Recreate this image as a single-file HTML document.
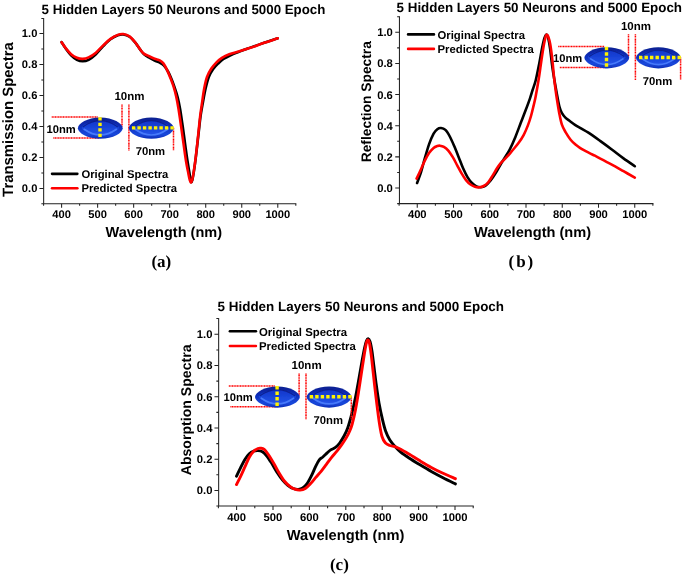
<!DOCTYPE html>
<html>
<head>
<meta charset="utf-8">
<title>Spectra figure</title>
<style>
html,body{margin:0;padding:0;background:#fff;}
body{width:685px;height:576px;overflow:hidden;font-family:"Liberation Sans",sans-serif;}
svg{display:block;will-change:transform;}
text{text-rendering:geometricPrecision;}
</style>
</head>
<body>
<svg width="685" height="576" viewBox="0 0 685 576">
<defs>
<linearGradient id="eg" x1="0" y1="0" x2="0" y2="1">
<stop offset="0" stop-color="#081f90"/><stop offset="0.4" stop-color="#0b2db8"/><stop offset="0.78" stop-color="#1a48dc"/><stop offset="1" stop-color="#0d2fb8"/>
</linearGradient>
<linearGradient id="ei" x1="0" y1="0" x2="0" y2="1">
<stop offset="0" stop-color="#1036ca"/><stop offset="1" stop-color="#2353e8"/>
</linearGradient>
<filter id="soft" x="-5%" y="-10%" width="110%" height="120%"><feGaussianBlur stdDeviation="0.45"/></filter>
</defs>
<rect width="685" height="576" fill="#fff"/>
<g id="chartA">
<g stroke="#222" stroke-width="1.05" fill="none">
<path d="M43.65 17.90 V203.65 H296.30"/>
<path d="M43.59 203.65v2.20M61.60 203.65v4.10M79.62 203.65v2.20M97.63 203.65v4.10M115.65 203.65v2.20M133.66 203.65v4.10M151.68 203.65v2.20M169.69 203.65v4.10M187.71 203.65v2.20M205.72 203.65v4.10M223.73 203.65v2.20M241.75 203.65v4.10M259.76 203.65v2.20M277.78 203.65v4.10M295.80 203.65v2.20M43.65 203.65h-2.30M43.65 188.40h-4.20M43.65 172.90h-2.30M43.65 157.40h-4.20M43.65 141.90h-2.30M43.65 126.40h-4.20M43.65 110.90h-2.30M43.65 95.40h-4.20M43.65 79.90h-2.30M43.65 64.40h-4.20M43.65 48.90h-2.30M43.65 33.40h-4.20M43.65 18.40h-2.30"/>
</g>
<g font-family="Liberation Sans, sans-serif" font-weight="bold" font-size="11.15" fill="#000">
<text x="61.60" y="218.40" text-anchor="middle">400</text>
<text x="97.63" y="218.40" text-anchor="middle">500</text>
<text x="133.66" y="218.40" text-anchor="middle">600</text>
<text x="169.69" y="218.40" text-anchor="middle">700</text>
<text x="205.72" y="218.40" text-anchor="middle">800</text>
<text x="241.75" y="218.40" text-anchor="middle">900</text>
<text x="277.78" y="218.40" text-anchor="middle">1000</text>
<text x="37.35" y="192.30" text-anchor="end">0.0</text>
<text x="37.35" y="161.30" text-anchor="end">0.2</text>
<text x="37.35" y="130.30" text-anchor="end">0.4</text>
<text x="37.35" y="99.30" text-anchor="end">0.6</text>
<text x="37.35" y="68.30" text-anchor="end">0.8</text>
<text x="37.35" y="37.30" text-anchor="end">1.0</text>
</g>
<text x="41.60" y="13.70" font-family="Liberation Sans, sans-serif" font-weight="bold" font-size="13.30" fill="#000">5 Hidden Layers 50 Neurons and 5000 Epoch</text>
<text x="105.60" y="237.00" font-family="Liberation Sans, sans-serif" font-weight="bold" font-size="14.52" fill="#000">Wavelength (nm)</text>
<text transform="translate(13.10 119.50) rotate(-90)" text-anchor="middle" font-family="Liberation Sans, sans-serif" font-weight="bold" font-size="14.9" fill="#000">Transmission Spectra</text>
<text x="161.35" y="266.80" text-anchor="middle" letter-spacing="0" font-family="Liberation Serif, serif" font-weight="bold" font-size="17" fill="#000">(a)</text>
<path d="M61.60 42.20C62.32 43.30 64.32 46.62 65.90 48.80C67.48 50.98 69.27 53.47 71.10 55.30C72.93 57.13 74.97 58.80 76.90 59.80C78.83 60.80 80.75 61.30 82.70 61.30C84.65 61.30 86.40 60.98 88.60 59.80C90.80 58.62 93.47 56.47 95.90 54.20C98.33 51.93 100.77 48.68 103.20 46.20C105.63 43.72 108.07 41.12 110.50 39.30C112.93 37.48 115.67 36.10 117.80 35.30C119.93 34.50 121.35 34.25 123.30 34.50C125.25 34.75 127.50 35.43 129.50 36.80C131.50 38.17 133.48 40.52 135.30 42.70C137.12 44.88 138.93 47.97 140.40 49.90C141.87 51.83 142.70 53.03 144.10 54.30C145.50 55.57 147.05 56.47 148.80 57.50C150.55 58.53 152.78 59.65 154.60 60.50C156.42 61.35 158.13 61.75 159.70 62.60C161.27 63.45 162.62 64.12 164.00 65.60C165.38 67.08 166.72 69.18 168.00 71.50C169.28 73.82 170.60 76.83 171.70 79.50C172.80 82.17 173.62 84.58 174.60 87.50C175.58 90.42 176.68 93.43 177.60 97.00C178.52 100.57 179.25 104.02 180.10 108.90C180.95 113.78 181.83 120.23 182.70 126.30C183.57 132.37 184.50 139.52 185.30 145.30C186.10 151.08 186.80 156.37 187.50 161.00C188.20 165.63 188.98 169.90 189.50 173.10C190.02 176.30 190.30 178.67 190.60 180.20C190.90 181.73 191.02 182.30 191.30 182.30C191.58 182.30 191.87 182.02 192.30 180.20C192.73 178.38 193.28 175.47 193.90 171.40C194.52 167.33 195.25 161.88 196.00 155.80C196.75 149.72 197.63 141.57 198.40 134.90C199.17 128.23 199.83 121.30 200.60 115.80C201.37 110.30 202.17 106.45 203.00 101.90C203.83 97.35 204.63 92.65 205.60 88.50C206.57 84.35 207.53 80.25 208.80 77.00C210.07 73.75 211.58 71.30 213.20 69.00C214.82 66.70 216.78 64.87 218.50 63.20C220.22 61.53 221.50 60.33 223.50 59.00C225.50 57.67 227.85 56.43 230.50 55.20C233.15 53.97 236.22 52.82 239.40 51.60C242.58 50.38 245.47 49.37 249.60 47.90C253.73 46.43 259.52 44.40 264.20 42.80C268.88 41.20 275.45 39.05 277.70 38.30" fill="none" stroke="#000" stroke-width="2.6" stroke-linecap="round" stroke-linejoin="round"/>
<path d="M61.60 42.20C62.32 43.23 64.32 46.40 65.90 48.40C67.48 50.40 69.27 52.63 71.10 54.20C72.93 55.77 74.97 57.02 76.90 57.80C78.83 58.58 80.75 58.97 82.70 58.90C84.65 58.83 86.40 58.43 88.60 57.40C90.80 56.37 93.47 54.70 95.90 52.70C98.33 50.70 100.77 47.70 103.20 45.40C105.63 43.10 108.07 40.65 110.50 38.90C112.93 37.15 115.67 35.71 117.80 34.90C119.93 34.09 121.35 33.80 123.30 34.05C125.25 34.30 127.50 34.99 129.50 36.40C131.50 37.81 133.48 40.27 135.30 42.50C137.12 44.73 138.93 47.90 140.40 49.80C141.87 51.70 142.73 52.87 144.10 53.90C145.47 54.93 146.85 55.20 148.60 56.00C150.35 56.80 152.75 57.98 154.60 58.70C156.45 59.42 158.23 59.52 159.70 60.30C161.17 61.08 162.18 61.80 163.40 63.40C164.62 65.00 165.78 67.35 167.00 69.90C168.22 72.45 169.60 75.90 170.70 78.70C171.80 81.50 172.68 83.73 173.60 86.70C174.52 89.67 175.38 92.80 176.20 96.50C177.02 100.20 177.68 103.93 178.50 108.90C179.32 113.87 180.22 120.23 181.10 126.30C181.97 132.37 182.93 139.52 183.75 145.30C184.57 151.08 185.24 156.37 186.00 161.00C186.76 165.63 187.67 169.90 188.30 173.10C188.93 176.30 189.37 178.62 189.80 180.20C190.23 181.78 190.52 182.60 190.90 182.60C191.28 182.60 191.62 182.07 192.10 180.20C192.58 178.33 193.17 175.47 193.80 171.40C194.43 167.33 195.17 161.88 195.90 155.80C196.63 149.72 197.48 141.57 198.20 134.90C198.92 128.23 199.53 121.30 200.20 115.80C200.87 110.30 201.53 106.45 202.20 101.90C202.87 97.35 203.40 92.65 204.20 88.50C205.00 84.35 205.83 80.28 207.00 77.00C208.17 73.72 209.62 71.25 211.20 68.80C212.78 66.35 214.72 64.13 216.50 62.30C218.28 60.47 219.78 59.15 221.90 57.80C224.02 56.45 226.28 55.28 229.20 54.20C232.12 53.12 236.00 52.32 239.40 51.30C242.80 50.28 245.47 49.52 249.60 48.10C253.73 46.68 259.52 44.44 264.20 42.80C268.88 41.16 275.45 39.01 277.70 38.25" fill="none" stroke="#f00" stroke-width="2.6" stroke-linecap="round" stroke-linejoin="round"/>
<g>
<g stroke="#f00" stroke-width="1.5" stroke-dasharray="1.15 0.45" fill="none">
<path d="M51.70 117.00H98.10"/>
<path d="M53.30 137.90H99.30"/>
<path d="M122.00 104.60V126.80"/>
<path d="M128.90 104.60V150.40"/>
<path d="M173.50 127.80V150.40"/>
</g>
<g filter="url(#soft)">
<path d="M77.90 128.20C77.90 123.54 87.53 117.60 100.30 117.60C113.07 117.60 122.70 123.54 122.70 128.20C122.70 132.86 113.07 138.80 100.30 138.80C87.53 138.80 77.90 132.86 77.90 128.20Z" fill="url(#eg)"/>
<path d="M81.70 127.70C81.70 125.29 89.51 121.00 100.30 121.00C111.09 121.00 118.90 125.29 118.90 127.70C118.90 130.11 111.09 134.40 100.30 134.40C89.51 134.40 81.70 130.11 81.70 127.70Z" fill="url(#ei)"/>
<path d="M84.20 129.30Q100.30 140.70 116.40 129.30" fill="none" stroke="#4f82ff" stroke-width="1.7" stroke-opacity="0.85" stroke-linecap="round"/>
<path d="M83.20 126.70Q100.30 114.60 117.40 126.70" fill="none" stroke="#071c85" stroke-width="1.2" stroke-opacity="0.8" stroke-linecap="round"/>
</g>
<g filter="url(#soft)">
<path d="M128.90 128.20C128.90 123.54 138.53 117.60 151.30 117.60C164.07 117.60 173.70 123.54 173.70 128.20C173.70 132.86 164.07 138.80 151.30 138.80C138.53 138.80 128.90 132.86 128.90 128.20Z" fill="url(#eg)"/>
<path d="M132.70 127.70C132.70 125.29 140.51 121.00 151.30 121.00C162.09 121.00 169.90 125.29 169.90 127.70C169.90 130.11 162.09 134.40 151.30 134.40C140.51 134.40 132.70 130.11 132.70 127.70Z" fill="url(#ei)"/>
<path d="M135.20 129.30Q151.30 140.70 167.40 129.30" fill="none" stroke="#4f82ff" stroke-width="1.7" stroke-opacity="0.85" stroke-linecap="round"/>
<path d="M134.20 126.70Q151.30 114.60 168.40 126.70" fill="none" stroke="#071c85" stroke-width="1.2" stroke-opacity="0.8" stroke-linecap="round"/>
</g>
<g stroke="#fff200" stroke-width="3.4" stroke-dasharray="3.4 2.1" fill="none">
<path d="M100.00 117.20V137.40"/>
<path d="M131.90 127.90H173.90"/>
</g>
<g font-family="Liberation Sans, sans-serif" font-weight="bold" font-size="11.2" fill="#000">
<text x="129.50" y="100.40" text-anchor="middle" font-size="11.5">10nm</text>
<text x="75.70" y="132.50" text-anchor="end">10nm</text>
<text x="150.40" y="155.00" text-anchor="middle" font-size="11.3">70nm</text>
</g>
</g>
<path d="M52.05 173.85H77.35" stroke="#000" stroke-width="2.6" stroke-linecap="round"/>
<path d="M52.05 188.30H77.35" stroke="#f00" stroke-width="2.6" stroke-linecap="round"/>
<g font-family="Liberation Sans, sans-serif" font-weight="bold" font-size="11.25" fill="#000">
<text x="81.40" y="177.75">Original Spectra</text>
<text x="81.40" y="192.20">Predicted Spectra</text>
</g>
</g>
<g id="chartB">
<g stroke="#222" stroke-width="1.05" fill="none">
<path d="M399.45 16.30 V203.60 H653.38"/>
<path d="M399.12 203.60v2.20M417.25 203.60v4.10M435.38 203.60v2.20M453.50 203.60v4.10M471.62 203.60v2.20M489.75 203.60v4.10M507.88 203.60v2.20M526.00 203.60v4.10M544.12 203.60v2.20M562.25 203.60v4.10M580.38 203.60v2.20M598.50 203.60v4.10M616.62 203.60v2.20M634.75 203.60v4.10M652.88 203.60v2.20M399.45 203.60h-2.30M399.45 188.00h-4.20M399.45 172.43h-2.30M399.45 156.86h-4.20M399.45 141.29h-2.30M399.45 125.72h-4.20M399.45 110.15h-2.30M399.45 94.58h-4.20M399.45 79.01h-2.30M399.45 63.44h-4.20M399.45 47.87h-2.30M399.45 32.30h-4.20M399.45 16.80h-2.30"/>
</g>
<g font-family="Liberation Sans, sans-serif" font-weight="bold" font-size="11.22" fill="#000">
<text x="417.25" y="218.40" text-anchor="middle">400</text>
<text x="453.50" y="218.40" text-anchor="middle">500</text>
<text x="489.75" y="218.40" text-anchor="middle">600</text>
<text x="526.00" y="218.40" text-anchor="middle">700</text>
<text x="562.25" y="218.40" text-anchor="middle">800</text>
<text x="598.50" y="218.40" text-anchor="middle">900</text>
<text x="634.75" y="218.40" text-anchor="middle">1000</text>
<text x="392.75" y="191.92" text-anchor="end">0.0</text>
<text x="392.75" y="160.78" text-anchor="end">0.2</text>
<text x="392.75" y="129.64" text-anchor="end">0.4</text>
<text x="392.75" y="98.50" text-anchor="end">0.6</text>
<text x="392.75" y="67.36" text-anchor="end">0.8</text>
<text x="392.75" y="36.22" text-anchor="end">1.0</text>
</g>
<text x="396.60" y="11.80" font-family="Liberation Sans, sans-serif" font-weight="bold" font-size="13.38" fill="#000">5 Hidden Layers 50 Neurons and 5000 Epoch</text>
<text x="474.00" y="237.00" font-family="Liberation Sans, sans-serif" font-weight="bold" font-size="14.61" fill="#000">Wavelength (nm)</text>
<text transform="translate(371.30 101.70) rotate(-90)" text-anchor="middle" font-family="Liberation Sans, sans-serif" font-weight="bold" font-size="13.8" fill="#000">Reflection Spectra</text>
<text x="508.60" y="266.80" text-anchor="start" letter-spacing="1.9" font-family="Liberation Serif, serif" font-weight="bold" font-size="17" fill="#000">(b)</text>
<path d="M417.10 183.00C417.77 181.15 419.83 175.95 421.10 171.90C422.37 167.85 423.35 163.37 424.70 158.70C426.05 154.03 427.72 148.08 429.20 143.90C430.68 139.72 432.25 136.05 433.60 133.60C434.95 131.15 436.07 130.13 437.30 129.20C438.53 128.27 439.65 127.88 441.00 128.00C442.35 128.12 443.93 128.48 445.40 129.90C446.87 131.32 448.33 133.80 449.80 136.50C451.27 139.20 452.72 142.65 454.20 146.10C455.68 149.55 457.22 153.50 458.70 157.20C460.18 160.90 461.63 164.98 463.10 168.30C464.57 171.62 466.03 174.65 467.50 177.10C468.97 179.55 470.42 181.45 471.90 183.00C473.38 184.55 474.92 185.68 476.40 186.40C477.88 187.12 479.33 187.37 480.80 187.30C482.27 187.23 483.60 187.08 485.20 186.00C486.80 184.92 488.68 182.90 490.40 180.80C492.12 178.70 493.67 176.35 495.50 173.40C497.33 170.45 499.72 165.93 501.40 163.10C503.08 160.27 504.22 158.65 505.60 156.40C506.98 154.15 508.07 152.85 509.70 149.60C511.33 146.35 513.58 141.28 515.40 136.90C517.22 132.52 518.87 127.82 520.60 123.30C522.33 118.78 524.23 113.97 525.80 109.80C527.37 105.63 528.87 101.60 530.00 98.30C531.13 95.00 531.63 93.05 532.60 90.00C533.57 86.95 534.68 84.47 535.80 80.00C536.92 75.53 538.23 68.60 539.30 63.20C540.37 57.80 541.33 51.80 542.20 47.60C543.07 43.40 543.77 40.18 544.50 38.00C545.23 35.82 545.97 34.42 546.60 34.50C547.23 34.58 547.70 36.03 548.30 38.50C548.90 40.97 549.53 44.60 550.20 49.30C550.87 54.00 551.43 60.62 552.30 66.70C553.17 72.78 554.43 80.18 555.40 85.80C556.37 91.42 557.38 96.75 558.10 100.40C558.82 104.05 559.08 105.62 559.70 107.70C560.32 109.78 560.85 111.25 561.80 112.90C562.75 114.55 564.02 116.21 565.40 117.60C566.78 118.99 568.50 120.03 570.10 121.25C571.70 122.47 573.18 123.71 575.00 124.90C576.82 126.09 578.77 127.10 581.00 128.40C583.23 129.70 585.22 130.62 588.40 132.70C591.58 134.78 596.20 138.10 600.10 140.90C604.00 143.70 607.90 146.58 611.80 149.50C615.70 152.42 619.67 155.62 623.50 158.40C627.33 161.18 632.92 164.90 634.80 166.20" fill="none" stroke="#000" stroke-width="2.6" stroke-linecap="round" stroke-linejoin="round"/>
<path d="M416.60 178.60C417.35 177.00 419.75 171.95 421.10 169.00C422.45 166.05 423.35 163.60 424.70 160.90C426.05 158.20 427.72 154.97 429.20 152.80C430.68 150.63 432.25 149.02 433.60 147.90C434.95 146.78 436.25 146.47 437.30 146.10C438.35 145.73 438.80 145.57 439.90 145.70C441.00 145.83 442.50 146.08 443.90 146.90C445.30 147.72 446.82 148.88 448.30 150.60C449.78 152.32 451.32 154.75 452.80 157.20C454.28 159.65 455.73 162.60 457.20 165.30C458.67 168.00 460.13 170.93 461.60 173.40C463.07 175.87 464.52 178.25 466.00 180.10C467.48 181.95 469.02 183.40 470.50 184.50C471.98 185.60 473.43 186.23 474.90 186.70C476.37 187.17 477.83 187.42 479.30 187.30C480.77 187.18 482.22 186.83 483.70 186.00C485.18 185.17 486.72 184.03 488.20 182.30C489.68 180.57 491.13 177.93 492.60 175.60C494.07 173.27 495.65 170.38 497.00 168.30C498.35 166.22 499.47 164.58 500.70 163.10C501.93 161.62 503.02 160.82 504.40 159.40C505.78 157.98 507.60 156.17 509.00 154.60C510.40 153.03 511.22 151.92 512.80 150.00C514.38 148.08 516.67 145.63 518.50 143.10C520.33 140.57 522.18 137.75 523.75 134.80C525.32 131.85 526.69 128.53 527.90 125.40C529.11 122.27 530.05 119.30 531.00 116.00C531.95 112.70 532.82 108.89 533.60 105.60C534.38 102.31 534.84 100.72 535.70 96.25C536.56 91.78 537.78 84.89 538.75 78.80C539.72 72.71 540.62 65.48 541.50 59.70C542.38 53.92 543.30 48.00 544.00 44.10C544.70 40.20 545.25 37.90 545.70 36.30C546.15 34.70 546.30 34.50 546.70 34.50C547.10 34.50 547.52 34.70 548.10 36.30C548.68 37.90 549.50 40.20 550.20 44.10C550.90 48.00 551.63 53.92 552.30 59.70C552.97 65.48 553.65 73.75 554.20 78.80C554.75 83.85 555.12 86.40 555.60 90.00C556.08 93.60 556.50 96.58 557.10 100.40C557.70 104.22 558.42 108.90 559.20 112.90C559.98 116.90 560.72 121.15 561.80 124.40C562.88 127.65 564.23 129.85 565.70 132.40C567.17 134.95 568.97 137.68 570.60 139.70C572.23 141.72 573.88 143.10 575.50 144.50C577.12 145.90 578.68 147.03 580.30 148.10C581.92 149.17 583.58 150.02 585.20 150.90C586.82 151.78 588.38 152.60 590.00 153.40C591.62 154.20 593.27 154.88 594.90 155.70C596.53 156.52 597.95 157.32 599.80 158.30C601.65 159.28 604.00 160.55 606.00 161.60C608.00 162.65 608.88 163.00 611.80 164.60C614.72 166.20 619.67 169.03 623.50 171.20C627.33 173.37 632.92 176.53 634.80 177.60" fill="none" stroke="#f00" stroke-width="2.6" stroke-linecap="round" stroke-linejoin="round"/>
<g>
<g stroke="#f00" stroke-width="1.5" stroke-dasharray="1.15 0.45" fill="none">
<path d="M558.20 46.60H604.60"/>
<path d="M559.80 67.50H605.80"/>
<path d="M628.50 34.20V56.40"/>
<path d="M635.40 34.20V80.00"/>
<path d="M680.60 57.40V80.00"/>
</g>
<g filter="url(#soft)">
<path d="M584.40 57.80C584.40 53.14 594.03 47.20 606.80 47.20C619.57 47.20 629.20 53.14 629.20 57.80C629.20 62.46 619.57 68.40 606.80 68.40C594.03 68.40 584.40 62.46 584.40 57.80Z" fill="url(#eg)"/>
<path d="M588.20 57.30C588.20 54.89 596.01 50.60 606.80 50.60C617.59 50.60 625.40 54.89 625.40 57.30C625.40 59.71 617.59 64.00 606.80 64.00C596.01 64.00 588.20 59.71 588.20 57.30Z" fill="url(#ei)"/>
<path d="M590.70 58.90Q606.80 70.30 622.90 58.90" fill="none" stroke="#4f82ff" stroke-width="1.7" stroke-opacity="0.85" stroke-linecap="round"/>
<path d="M589.70 56.30Q606.80 44.20 623.90 56.30" fill="none" stroke="#071c85" stroke-width="1.2" stroke-opacity="0.8" stroke-linecap="round"/>
</g>
<g filter="url(#soft)">
<path d="M636.00 57.80C636.00 53.14 645.63 47.20 658.40 47.20C671.17 47.20 680.80 53.14 680.80 57.80C680.80 62.46 671.17 68.40 658.40 68.40C645.63 68.40 636.00 62.46 636.00 57.80Z" fill="url(#eg)"/>
<path d="M639.80 57.30C639.80 54.89 647.61 50.60 658.40 50.60C669.19 50.60 677.00 54.89 677.00 57.30C677.00 59.71 669.19 64.00 658.40 64.00C647.61 64.00 639.80 59.71 639.80 57.30Z" fill="url(#ei)"/>
<path d="M642.30 58.90Q658.40 70.30 674.50 58.90" fill="none" stroke="#4f82ff" stroke-width="1.7" stroke-opacity="0.85" stroke-linecap="round"/>
<path d="M641.30 56.30Q658.40 44.20 675.50 56.30" fill="none" stroke="#071c85" stroke-width="1.2" stroke-opacity="0.8" stroke-linecap="round"/>
</g>
<g stroke="#fff200" stroke-width="3.4" stroke-dasharray="3.4 2.1" fill="none">
<path d="M606.50 46.80V67.00"/>
<path d="M639.00 57.50H681.00"/>
</g>
<g font-family="Liberation Sans, sans-serif" font-weight="bold" font-size="11.2" fill="#000">
<text x="636.00" y="30.00" text-anchor="middle" font-size="11.5">10nm</text>
<text x="582.20" y="62.10" text-anchor="end">10nm</text>
<text x="657.50" y="84.60" text-anchor="middle" font-size="11.3">70nm</text>
</g>
</g>
<path d="M408.10 34.40H433.90" stroke="#000" stroke-width="2.6" stroke-linecap="round"/>
<path d="M408.10 48.90H433.90" stroke="#f00" stroke-width="2.6" stroke-linecap="round"/>
<g font-family="Liberation Sans, sans-serif" font-weight="bold" font-size="11.33" fill="#000">
<text x="437.50" y="38.65">Original Spectra</text>
<text x="437.50" y="53.15">Predicted Spectra</text>
</g>
</g>
<g id="chartC">
<g stroke="#222" stroke-width="1.05" fill="none">
<path d="M218.65 318.00 V506.00 H473.70"/>
<path d="M218.40 506.00v2.20M236.60 506.00v4.10M254.80 506.00v2.20M273.00 506.00v4.10M291.20 506.00v2.20M309.40 506.00v4.10M327.60 506.00v2.20M345.80 506.00v4.10M364.00 506.00v2.20M382.20 506.00v4.10M400.40 506.00v2.20M418.60 506.00v4.10M436.80 506.00v2.20M455.00 506.00v4.10M473.20 506.00v2.20M218.65 506.00h-2.30M218.65 490.45h-4.20M218.65 474.83h-2.30M218.65 459.22h-4.20M218.65 443.61h-2.30M218.65 427.99h-4.20M218.65 412.38h-2.30M218.65 396.76h-4.20M218.65 381.14h-2.30M218.65 365.53h-4.20M218.65 349.91h-2.30M218.65 334.30h-4.20M218.65 318.50h-2.30"/>
</g>
<g font-family="Liberation Sans, sans-serif" font-weight="bold" font-size="11.26" fill="#000">
<text x="236.60" y="520.80" text-anchor="middle">400</text>
<text x="273.00" y="520.80" text-anchor="middle">500</text>
<text x="309.40" y="520.80" text-anchor="middle">600</text>
<text x="345.80" y="520.80" text-anchor="middle">700</text>
<text x="382.20" y="520.80" text-anchor="middle">800</text>
<text x="418.60" y="520.80" text-anchor="middle">900</text>
<text x="455.00" y="520.80" text-anchor="middle">1000</text>
<text x="212.45" y="494.39" text-anchor="end">0.0</text>
<text x="212.45" y="463.16" text-anchor="end">0.2</text>
<text x="212.45" y="431.93" text-anchor="end">0.4</text>
<text x="212.45" y="400.70" text-anchor="end">0.6</text>
<text x="212.45" y="369.47" text-anchor="end">0.8</text>
<text x="212.45" y="338.24" text-anchor="end">1.0</text>
</g>
<text x="217.60" y="311.30" font-family="Liberation Sans, sans-serif" font-weight="bold" font-size="13.43" fill="#000">5 Hidden Layers 50 Neurons and 5000 Epoch</text>
<text x="286.80" y="540.30" font-family="Liberation Sans, sans-serif" font-weight="bold" font-size="14.66" fill="#000">Wavelength (nm)</text>
<text transform="translate(191.30 409.90) rotate(-90)" text-anchor="middle" font-family="Liberation Sans, sans-serif" font-weight="bold" font-size="14.1" fill="#000">Absorption Spectra</text>
<text x="339.40" y="570.30" text-anchor="middle" letter-spacing="0" font-family="Liberation Serif, serif" font-weight="bold" font-size="17" fill="#000">(c)</text>
<path d="M236.50 476.20C237.17 474.80 239.10 470.60 240.50 467.80C241.90 465.00 243.43 461.73 244.90 459.40C246.37 457.07 247.84 455.17 249.30 453.80C250.76 452.43 252.20 451.73 253.65 451.20C255.10 450.67 256.54 450.50 258.00 450.60C259.46 450.70 260.93 450.90 262.40 451.80C263.87 452.70 265.20 454.00 266.80 456.00C268.40 458.00 270.25 461.02 272.00 463.80C273.75 466.58 275.53 469.98 277.30 472.70C279.07 475.42 280.85 478.00 282.60 480.10C284.35 482.20 286.05 483.90 287.80 485.30C289.55 486.70 291.35 487.82 293.10 488.50C294.85 489.18 296.70 489.48 298.30 489.40C299.90 489.32 301.23 488.97 302.70 488.00C304.17 487.03 305.63 485.65 307.10 483.60C308.57 481.55 310.05 478.62 311.50 475.70C312.95 472.78 314.50 468.73 315.80 466.10C317.10 463.47 318.12 461.42 319.30 459.90C320.48 458.38 321.58 458.17 322.90 457.00C324.22 455.83 325.90 454.08 327.20 452.90C328.50 451.72 329.38 450.77 330.70 449.90C332.02 449.03 333.63 448.80 335.10 447.70C336.57 446.60 338.03 445.20 339.50 443.30C340.97 441.40 342.53 438.87 343.90 436.30C345.27 433.73 346.37 431.73 347.70 427.90C349.03 424.07 350.58 418.50 351.90 413.30C353.22 408.10 354.41 402.60 355.60 396.70C356.79 390.80 357.98 383.81 359.05 377.90C360.12 371.99 361.07 366.28 362.00 361.25C362.93 356.22 363.85 351.11 364.60 347.70C365.35 344.29 365.92 342.29 366.50 340.80C367.08 339.31 367.52 338.63 368.10 338.75C368.68 338.87 369.37 339.49 370.00 341.50C370.63 343.51 371.27 346.82 371.90 350.80C372.53 354.78 373.08 359.83 373.80 365.40C374.52 370.97 375.33 377.95 376.20 384.20C377.07 390.45 377.95 397.00 379.00 402.90C380.05 408.80 381.40 414.92 382.50 419.60C383.60 424.28 384.40 427.63 385.60 431.00C386.80 434.37 388.17 437.25 389.70 439.80C391.23 442.35 392.97 444.25 394.80 446.30C396.63 448.35 398.27 450.12 400.70 452.10C403.13 454.08 406.25 456.13 409.40 458.20C412.55 460.27 415.95 462.30 419.60 464.50C423.25 466.70 427.40 469.20 431.30 471.40C435.20 473.60 438.98 475.62 443.00 477.70C447.02 479.78 453.33 482.87 455.40 483.90" fill="none" stroke="#000" stroke-width="2.9" stroke-linecap="round" stroke-linejoin="round"/>
<path d="M236.50 484.50C237.17 483.18 239.10 479.53 240.50 476.60C241.90 473.67 243.43 470.12 244.90 466.90C246.37 463.68 247.84 459.92 249.30 457.30C250.76 454.68 252.20 452.67 253.65 451.20C255.10 449.73 256.82 449.00 258.00 448.50C259.18 448.00 259.67 448.05 260.70 448.20C261.73 448.35 262.90 448.32 264.20 449.40C265.50 450.48 266.90 452.37 268.50 454.70C270.10 457.03 272.03 460.33 273.80 463.40C275.57 466.47 277.35 470.17 279.10 473.10C280.85 476.03 282.55 478.82 284.30 481.00C286.05 483.18 287.85 484.83 289.60 486.20C291.35 487.57 293.05 488.55 294.80 489.20C296.55 489.85 298.35 490.22 300.10 490.10C301.85 489.98 303.55 489.58 305.30 488.50C307.05 487.42 308.85 485.45 310.60 483.60C312.35 481.75 314.05 479.45 315.80 477.40C317.55 475.35 319.33 473.48 321.10 471.30C322.87 469.12 324.65 466.63 326.40 464.30C328.15 461.97 329.85 459.48 331.60 457.30C333.35 455.12 335.15 453.38 336.90 451.20C338.65 449.02 340.50 446.50 342.10 444.20C343.70 441.90 345.25 439.57 346.50 437.40C347.75 435.23 348.65 433.43 349.60 431.20C350.55 428.97 351.23 427.50 352.20 424.00C353.17 420.50 354.36 415.45 355.40 410.20C356.44 404.95 357.47 398.57 358.45 392.50C359.43 386.43 360.34 380.00 361.30 373.75C362.26 367.50 363.38 360.04 364.20 355.00C365.02 349.96 365.67 346.00 366.25 343.50C366.83 341.00 367.18 340.10 367.70 340.00C368.22 339.90 368.81 340.40 369.40 342.90C369.99 345.40 370.63 350.20 371.25 355.00C371.87 359.80 372.44 365.80 373.10 371.70C373.76 377.60 374.47 384.15 375.20 390.40C375.93 396.65 376.77 403.52 377.50 409.20C378.23 414.88 378.85 419.95 379.60 424.50C380.35 429.05 381.05 433.45 382.00 436.50C382.95 439.55 384.02 441.30 385.30 442.80C386.58 444.30 388.12 444.87 389.70 445.50C391.28 446.13 392.97 445.98 394.80 446.60C396.63 447.22 398.27 447.92 400.70 449.20C403.13 450.48 406.25 452.40 409.40 454.30C412.55 456.20 415.95 458.42 419.60 460.60C423.25 462.78 427.40 465.28 431.30 467.40C435.20 469.52 438.98 471.42 443.00 473.30C447.02 475.18 453.33 477.80 455.40 478.70" fill="none" stroke="#f00" stroke-width="2.9" stroke-linecap="round" stroke-linejoin="round"/>
<g>
<g stroke="#f00" stroke-width="1.5" stroke-dasharray="1.15 0.45" fill="none">
<path d="M228.80 385.90H275.20"/>
<path d="M230.40 406.80H276.40"/>
<path d="M299.10 373.50V395.70"/>
<path d="M306.00 373.50V419.30"/>
<path d="M351.30 396.70V419.30"/>
</g>
<g filter="url(#soft)">
<path d="M255.00 397.10C255.00 392.44 264.63 386.50 277.40 386.50C290.17 386.50 299.80 392.44 299.80 397.10C299.80 401.76 290.17 407.70 277.40 407.70C264.63 407.70 255.00 401.76 255.00 397.10Z" fill="url(#eg)"/>
<path d="M258.80 396.60C258.80 394.19 266.61 389.90 277.40 389.90C288.19 389.90 296.00 394.19 296.00 396.60C296.00 399.01 288.19 403.30 277.40 403.30C266.61 403.30 258.80 399.01 258.80 396.60Z" fill="url(#ei)"/>
<path d="M261.30 398.20Q277.40 409.60 293.50 398.20" fill="none" stroke="#4f82ff" stroke-width="1.7" stroke-opacity="0.85" stroke-linecap="round"/>
<path d="M260.30 395.60Q277.40 383.50 294.50 395.60" fill="none" stroke="#071c85" stroke-width="1.2" stroke-opacity="0.8" stroke-linecap="round"/>
</g>
<g filter="url(#soft)">
<path d="M306.70 397.10C306.70 392.44 316.33 386.50 329.10 386.50C341.87 386.50 351.50 392.44 351.50 397.10C351.50 401.76 341.87 407.70 329.10 407.70C316.33 407.70 306.70 401.76 306.70 397.10Z" fill="url(#eg)"/>
<path d="M310.50 396.60C310.50 394.19 318.31 389.90 329.10 389.90C339.89 389.90 347.70 394.19 347.70 396.60C347.70 399.01 339.89 403.30 329.10 403.30C318.31 403.30 310.50 399.01 310.50 396.60Z" fill="url(#ei)"/>
<path d="M313.00 398.20Q329.10 409.60 345.20 398.20" fill="none" stroke="#4f82ff" stroke-width="1.7" stroke-opacity="0.85" stroke-linecap="round"/>
<path d="M312.00 395.60Q329.10 383.50 346.20 395.60" fill="none" stroke="#071c85" stroke-width="1.2" stroke-opacity="0.8" stroke-linecap="round"/>
</g>
<g stroke="#fff200" stroke-width="3.4" stroke-dasharray="3.4 2.1" fill="none">
<path d="M277.10 386.10V406.30"/>
<path d="M309.70 396.80H351.70"/>
</g>
<g font-family="Liberation Sans, sans-serif" font-weight="bold" font-size="11.2" fill="#000">
<text x="306.60" y="369.30" text-anchor="middle" font-size="11.5">10nm</text>
<text x="252.80" y="401.40" text-anchor="end">10nm</text>
<text x="328.20" y="423.90" text-anchor="middle" font-size="11.3">70nm</text>
</g>
</g>
<path d="M229.90 331.30H255.90" stroke="#000" stroke-width="2.6" stroke-linecap="round"/>
<path d="M229.90 346.00H255.90" stroke="#f00" stroke-width="2.6" stroke-linecap="round"/>
<g font-family="Liberation Sans, sans-serif" font-weight="bold" font-size="11.40" fill="#000">
<text x="259.00" y="335.70">Original Spectra</text>
<text x="259.00" y="350.40">Predicted Spectra</text>
</g>
</g>
</svg>
</body>
</html>
